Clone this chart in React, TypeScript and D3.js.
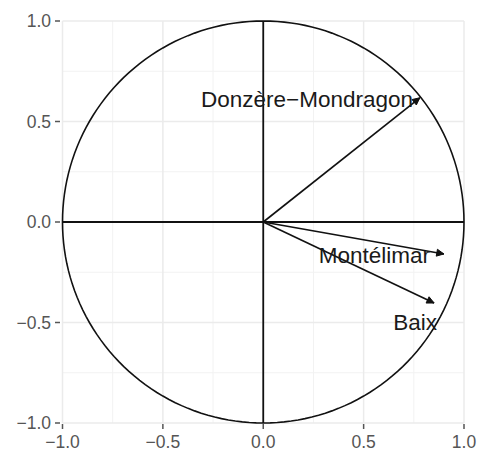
import React from "react";
import * as d3 from "d3";

const variables = ["Donzère\u2212Mondragon", "Montélimar", "Baix"];
const coordX = [0.78, 0.9, 0.851];
const coordY = [0.618, -0.159, -0.403];
const labelX = [0.746, 0.831, 0.866];
const labelY = [0.572, -0.204, -0.537];
const majorTicks = [-1.0, -0.5, 0.0, 0.5, 1.0];
const minorTicks = [-0.75, -0.25, 0.25, 0.75];

const W = 477;
const H = 450;

export default function App() {
  const x = d3.scaleLinear().domain([-1, 1]).range([62.5, 464]);
  const y = d3.scaleLinear().domain([-1, 1]).range([423, 21]);
  const fmt = d3.format(".1f");
  const tickLabel = (v: number) => fmt(v).replace("-", "\u2212");
  const circle = d3.range(0, 361, 2).map((a) => [Math.cos((a * Math.PI) / 180), Math.sin((a * Math.PI) / 180)] as [number, number]);
  const line = d3.line<[number, number]>().x((d) => x(d[0])).y((d) => y(d[1]));
  const font = "'Liberation Sans', Arial, sans-serif";
  const [x0, x1] = x.range();
  const [y0, y1] = y.range();

  return (
    <svg width={W} height={H} style={{ position: "absolute", left: 0, top: 0, background: "#fff" }}>
      {/* grid */}
      {minorTicks.map((t) => (
        <g key={"m" + t}>
          <line x1={x(t)} x2={x(t)} y1={y1} y2={y0} stroke="#F2F2F2" strokeWidth={1} />
          <line x1={x0} x2={x1} y1={y(t)} y2={y(t)} stroke="#F2F2F2" strokeWidth={1} />
        </g>
      ))}
      {majorTicks.map((t) => (
        <g key={"M" + t}>
          <line x1={x(t)} x2={x(t)} y1={y1} y2={y0} stroke="#EBEBEB" strokeWidth={1.5} />
          <line x1={x0} x2={x1} y1={y(t)} y2={y(t)} stroke="#EBEBEB" strokeWidth={1.5} />
        </g>
      ))}
      {/* axis ticks & labels */}
      {majorTicks.map((t) => (
        <g key={"t" + t} fontFamily={font} fontSize={17.5} fill="#555">
          <line x1={55} x2={60} y1={y(t)} y2={y(t)} stroke="#555" strokeWidth={1.5} />
          <text x={51} y={y(t)} textAnchor="end" dominantBaseline="central">{tickLabel(t)}</text>
          <line x1={x(t)} x2={x(t)} y1={424} y2={429} stroke="#555" strokeWidth={1.5} />
          <text x={x(t)} y={448} textAnchor="middle">{tickLabel(t)}</text>
        </g>
      ))}
      {/* unit circle */}
      <path d={line(circle) || ""} fill="none" stroke="#111" strokeWidth={1.6} />
      {/* axes lines */}
      <line x1={x(-1)} x2={x(1)} y1={y(0)} y2={y(0)} stroke="#111" strokeWidth={1.8} />
      <line x1={x(0)} x2={x(0)} y1={y(-1)} y2={y(1)} stroke="#111" strokeWidth={1.8} />
      {/* arrows */}
      {variables.map((v, i) => {
        const tx = x(coordX[i]);
        const ty = y(coordY[i]);
        const ang = Math.atan2(ty - y(0), tx - x(0));
        const L = 8;
        const a1 = ang + Math.PI - 0.45;
        const a2 = ang + Math.PI + 0.45;
        return (
          <g key={v}>
            <line x1={x(0)} y1={y(0)} x2={tx} y2={ty} stroke="#111" strokeWidth={1.6} />
            <path
              d={`M${tx},${ty}L${tx + L * Math.cos(a1)},${ty + L * Math.sin(a1)}L${tx + L * Math.cos(a2)},${ty + L * Math.sin(a2)}Z`}
              fill="#111"
              stroke="#111"
              strokeWidth={1}
            />
          </g>
        );
      })}
      {/* labels */}
      {variables.map((v, i) => (
        <text key={"l" + v} x={x(labelX[i])} y={y(labelY[i])} textAnchor="end" fontFamily={font} fontSize={22.5} fill="#1a1a1a">
          {v}
        </text>
      ))}
    </svg>
  );
}
